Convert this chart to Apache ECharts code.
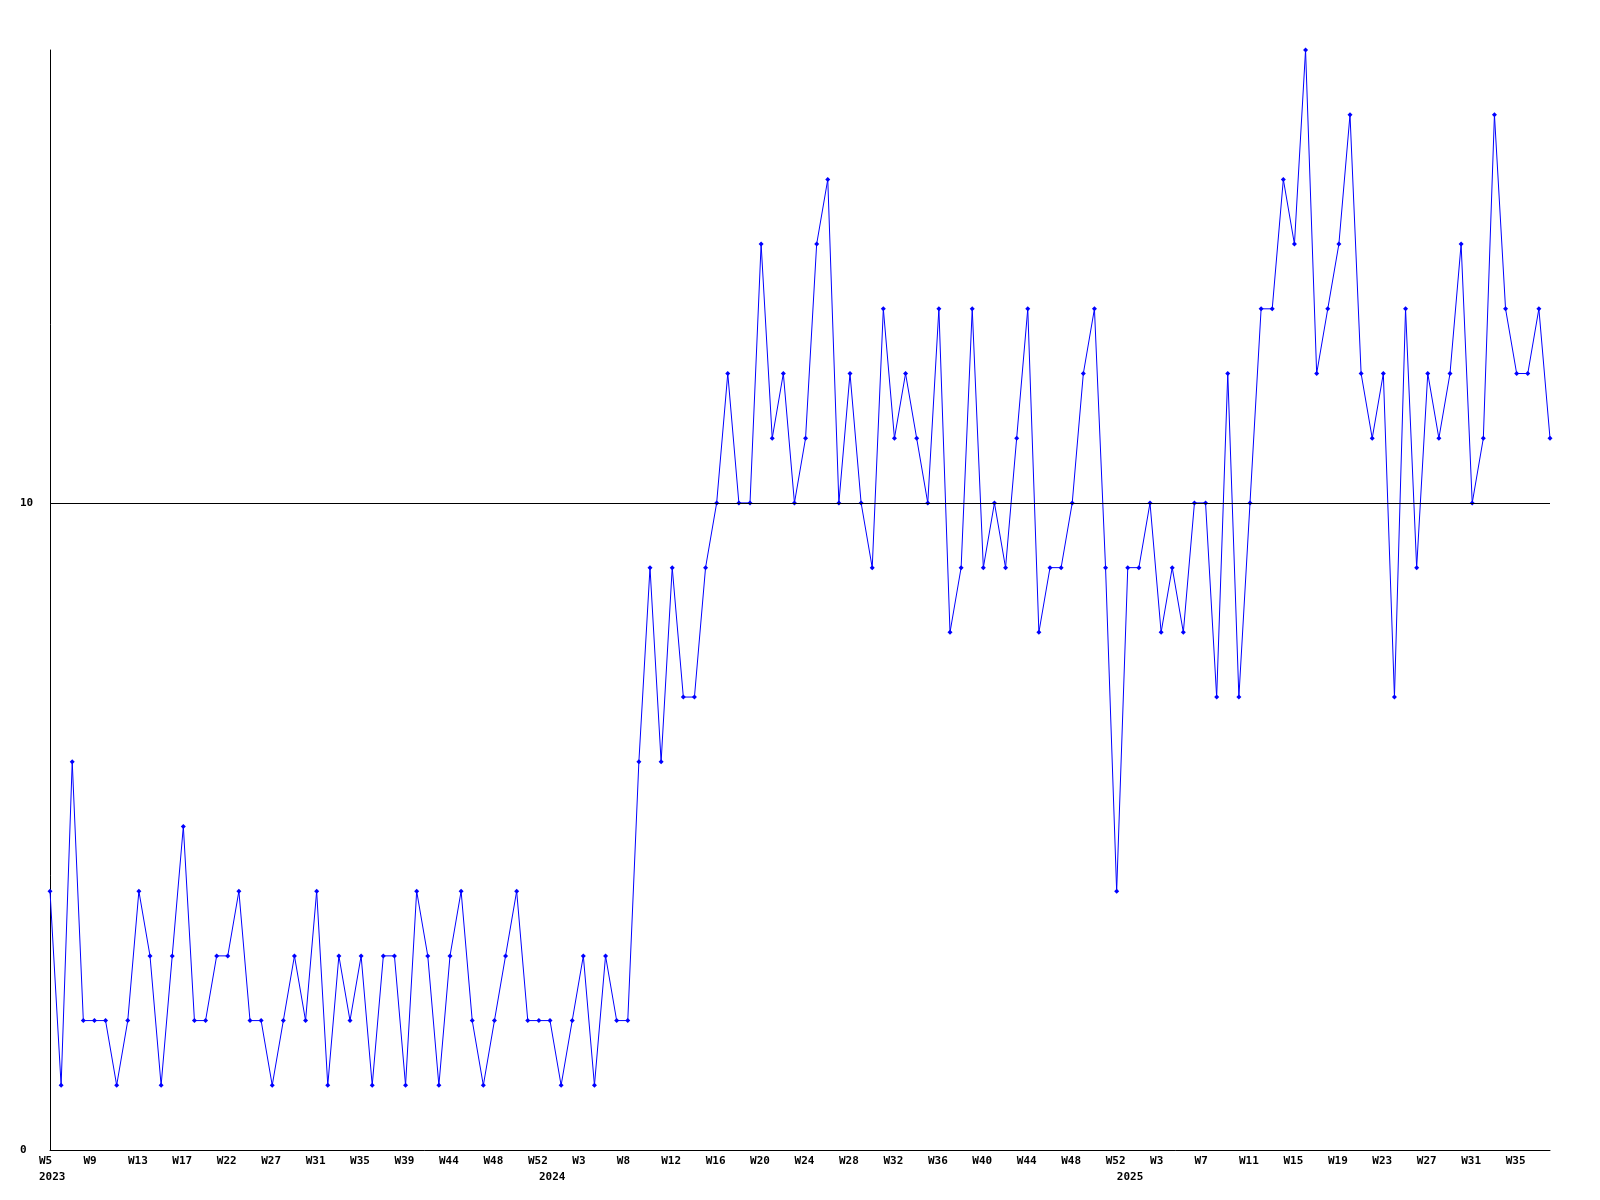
<!DOCTYPE html>
<html>
<head>
<meta charset="utf-8">
<script src="https://cdn.jsdelivr.net/npm/echarts@6/dist/echarts.min.js"></script>
<style>
html,body{margin:0;padding:0;background:#fff;}
#chart{width:1600px;height:1200px;}
</style>
</head>
<body>
<div id="chart"></div>
<script>
// Weekly values, 2023 W5 .. 2025 (136 points)
const values = [
  4,1,6,2,2,2,1,2,4,3,1,3,5,2,2,3,3,4,2,2,
  1,2,3,2,4,1,3,2,3,1,3,3,1,4,3,1,3,4,2,1,
  2,3,4,2,2,2,1,2,3,1,3,2,2,6,9,6,9,7,7,9,
  10,12,10,10,14,11,12,10,11,14,15,10,12,10,9,13,11,12,11,10,
  13,8,9,13,9,10,9,11,13,8,9,9,10,12,13,9,4,9,9,10,
  8,9,8,10,10,7,12,7,10,13,13,15,14,17,12,13,14,16,12,11,
  12,7,13,9,12,11,12,14,10,11,16,13,12,12,13,11
];
// Week tick labels (every 4th point)
const weekLabels = ['W5','W9','W13','W17','W22','W27','W31','W35','W39','W44','W48','W52',
  'W3','W8','W12','W16','W20','W24','W28','W32','W36','W40','W44','W48','W52',
  'W3','W7','W11','W15','W19','W23','W27','W31','W35'];
const weekLabelIdx = weekLabels.map((_, i) => i * 4);
// Year labels and the point index where they appear
const yearLabels = ['2023','2024','2025'];
const yearLabelIdx = [0, 45, 97];
// Y tick labels
const yTicks = [0, 10];

const labelFont = {fontFamily: 'DejaVu Sans Mono', fontWeight: 'bold', fontSize: 11, color: '#000'};
const n = values.length;

const chart = echarts.init(document.getElementById('chart'), null, {renderer: 'canvas'});
chart.setOption({
  animation: false,
  backgroundColor: '#fff',
  grid: [
    {left: 50, right: 50, top: 50, bottom: 50, containLabel: false},
    // label grid: same width, shifted 11px left so labels start just left of their tick
    {left: 39, right: 61, top: 50, bottom: 50, containLabel: false}
  ],
  xAxis: [
    {
      type: 'value', gridIndex: 0, min: 0, max: n - 1, position: 'bottom',
      axisLine: {show: true, onZero: false, lineStyle: {color: '#000', width: 1}},
      axisTick: {show: false}, axisLabel: {show: false}, splitLine: {show: false}
    },
    {
      type: 'value', gridIndex: 1, min: 0, max: n - 1, position: 'bottom',
      axisLine: {show: false}, axisTick: {show: false}, splitLine: {show: false},
      axisLabel: Object.assign({
        show: true, align: 'left', margin: 6,
        customValues: weekLabelIdx,
        formatter: v => { const k = weekLabelIdx.indexOf(Math.round(v)); return k >= 0 ? weekLabels[k] : ''; }
      }, labelFont)
    },
    {
      type: 'value', gridIndex: 1, min: 0, max: n - 1, position: 'bottom',
      axisLine: {show: false}, axisTick: {show: false}, splitLine: {show: false},
      axisLabel: Object.assign({
        show: true, align: 'left', margin: 22,
        customValues: yearLabelIdx,
        formatter: v => { const k = yearLabelIdx.indexOf(Math.round(v)); return k >= 0 ? yearLabels[k] : ''; }
      }, labelFont)
    }
  ],
  yAxis: [
    {
      type: 'value', gridIndex: 0, min: 0, max: 17, interval: 10,
      axisLine: {show: true, onZero: false, lineStyle: {color: '#000', width: 1}},
      axisTick: {show: false}, splitLine: {show: false},
      axisLabel: Object.assign({show: true, align: 'left', margin: 30, customValues: yTicks}, labelFont)
    },
    {
      type: 'value', gridIndex: 1, min: 0, max: 17, show: false,
      axisLine: {show: false}, axisTick: {show: false}, splitLine: {show: false}, axisLabel: {show: false}
    }
  ],
  series: [{
    type: 'line',
    xAxisIndex: 0, yAxisIndex: 0,
    data: values.map((v, i) => [i, v]),
    color: '#0000ff',
    lineStyle: {color: '#0000ff', width: 1},
    itemStyle: {color: '#0000ff'},
    symbol: 'diamond', symbolSize: 5, showSymbol: true,
    markLine: {
      silent: true, symbol: 'none', label: {show: false},
      lineStyle: {color: '#000', width: 1, type: 'solid'},
      data: [{yAxis: yTicks[1]}]
    }
  }]
});
</script>
</body>
</html>
